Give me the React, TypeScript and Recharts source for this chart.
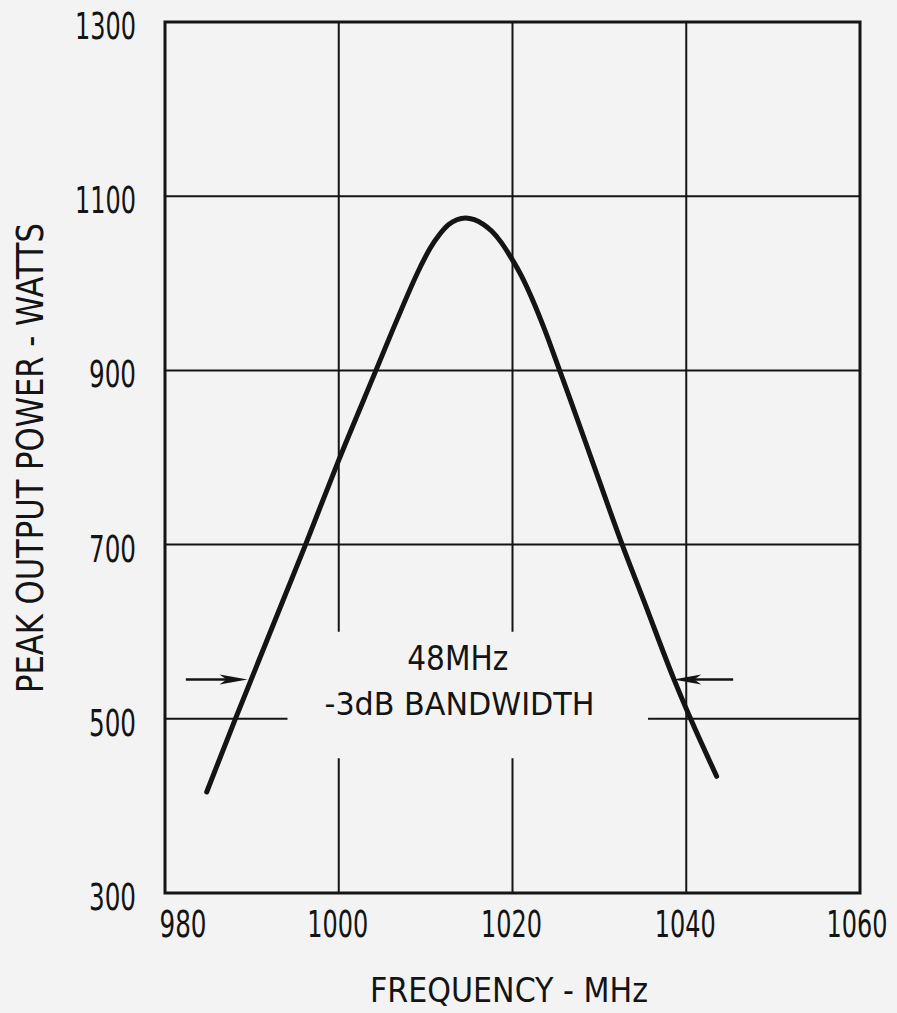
import React from 'react';
import {
  LineChart,
  Line,
  XAxis,
  YAxis,
  CartesianGrid,
  ReferenceArea,
  ReferenceLine,
  ReferenceDot,
  Label,
} from 'recharts';

// ---- data ----
const frequencies = [
  984.8, 988.1, 996.1, 1000.0, 1004.2, 1006.7, 1009.4, 1010.5, 1011.6, 1012.6, 1013.6,
  1014.6, 1015.6, 1016.6, 1017.6, 1018.7, 1019.8, 1021.0, 1022.0, 1023.5, 1025.5,
  1026.6, 1029.6, 1032.7, 1035.1, 1038.6, 1040.5, 1043.5,
];
const powers = [
  416, 500, 698, 797, 898, 958, 1019, 1040, 1056, 1067, 1073,
  1075, 1073, 1068, 1060, 1047, 1030, 1009, 988, 952, 898,
  868, 784, 698, 636, 545, 500, 434,
];
const xTicks = [980, 1000, 1020, 1040, 1060];
const yTicks = [300, 500, 700, 900, 1100, 1300];
const xAxisTitle = 'FREQUENCY - MHz';
const yAxisTitle = 'PEAK OUTPUT POWER - WATTS';
const annotationTop = '48MHz';
const annotationBottom = '-3dB BANDWIDTH';
// -3 dB markers (MHz, W)
const markerLevel = 545;
const leftMarker = [982.4, 989.5];
const rightMarker = [1045.4, 1038.5];
// grid opening behind the annotation (MHz, W)
const gapFreq = [994.1, 1035.6];
const gapPower = [454.7, 600];
// annotation anchor points (MHz, W)
const annotationTopAt = [1013.7, 556];
const annotationBottomAt = [1013.9, 504.4];

const data = frequencies.map((f, i) => ({ f, p: powers[i] }));

const INK = '#141414';
const BG = '#f3f3f3';
const FONT = "'Liberation Sans Narrow', 'DejaVu Sans Condensed', 'Liberation Sans', sans-serif";

const tickWidth = (s: string) => (s.length >= 4 ? 61 : 47);

const YTick = (props: any) => {
  const { x, y, payload } = props;
  const s = String(payload.value);
  const w = tickWidth(s);
  return (
    <text
      x={x - w}
      y={y + 17}
      textAnchor="start"
      fontFamily={FONT}
      fontSize={37}
      fill={INK}
      textLength={w}
      lengthAdjust="spacingAndGlyphs"
    >
      {s}
    </text>
  );
};

const XTick = (props: any) => {
  const { x, y, payload, index } = props;
  const s = String(payload.value);
  const w = tickWidth(s);
  const cx = index === 0 ? x + 18 : index === 4 ? x - 3 : x - 1;
  return (
    <text
      x={cx - w / 2}
      y={y + 44}
      textAnchor="start"
      fontFamily={FONT}
      fontSize={37}
      fill={INK}
      textLength={w}
      lengthAdjust="spacingAndGlyphs"
    >
      {s}
    </text>
  );
};

const arrowShape = (props: any) => {
  const { x1, y1, x2, y2 } = props;
  const dir = Math.sign(x2 - x1) || 1;
  const head = 28;
  const half = 5;
  return (
    <g>
      <line x1={x1} y1={y1} x2={x2 - dir * head * 0.6} y2={y2} stroke={INK} strokeWidth={2.5} />
      <polygon
        points={`${x2},${y2} ${x2 - dir * head},${y2 - half} ${x2 - dir * head * 0.75},${y2} ${x2 - dir * head},${y2 + half}`}
        fill={INK}
      />
    </g>
  );
};

const textShape = (text: string, size: number, width: number) => (props: any) => {
  const { cx, cy } = props;
  return (
    <text
      x={cx - width / 2}
      y={cy}
      textAnchor="start"
      fontFamily={FONT}
      fontSize={size}
      fill={INK}
      textLength={width}
      lengthAdjust="spacingAndGlyphs"
    >
      {text}
    </text>
  );
};

export default function App() {
  return (
    <div style={{ position: 'absolute', left: 0, top: 0, width: 897, height: 1013, background: BG }}>
      <LineChart
        width={897}
        height={1013}
        data={data}
        margin={{ top: 22, right: 37, bottom: 0, left: 0 }}
      >
        <CartesianGrid stroke={INK} strokeWidth={2} fill="none" />
        <XAxis
          type="number"
          dataKey="f"
          domain={[980, 1060]}
          ticks={xTicks}
          interval={0}
          axisLine={false}
          tickLine={false}
          tickSize={0}
          tickMargin={0}
          height={120}
          tick={<XTick />}
        >
          <Label
            content={() => {
              const w = 278;
              const cx = 509;
              return (
                <text
                  x={cx - w / 2}
                  y={1002}
                  fontFamily={FONT}
                  fontSize={33}
                  fill={INK}
                  textLength={w}
                  lengthAdjust="spacingAndGlyphs"
                >
                  {xAxisTitle}
                </text>
              );
            }}
          />
        </XAxis>
        <YAxis
          type="number"
          domain={[300, 1300]}
          ticks={yTicks}
          interval={0}
          axisLine={false}
          tickLine={false}
          tickSize={0}
          tickMargin={29}
          width={165}
          tick={<YTick />}
        >
          <Label
            content={() => {
              const w = 470;
              const bx = 43;
              const cy = 458;
              return (
                <g transform={`translate(${bx}, ${cy}) rotate(-90)`}>
                  <text
                    x={-w / 2}
                    y={0}
                    fontFamily={FONT}
                    fontSize={38}
                    fill={INK}
                    textLength={w}
                    lengthAdjust="spacingAndGlyphs"
                  >
                    {yAxisTitle}
                  </text>
                </g>
              );
            }}
          />
        </YAxis>
        <ReferenceArea
          x1={gapFreq[0]}
          x2={gapFreq[1]}
          y1={gapPower[0]}
          y2={gapPower[1]}
          fill={BG}
          fillOpacity={1}
          stroke="none"
        />
        <ReferenceArea
          x1={980}
          x2={1060}
          y1={300}
          y2={1300}
          fill="none"
          stroke={INK}
          strokeWidth={3}
          ifOverflow="visible"
        />
        <ReferenceLine
          segment={[{ x: leftMarker[0], y: markerLevel }, { x: leftMarker[1], y: markerLevel }]}
          shape={arrowShape}
        />
        <ReferenceLine
          segment={[{ x: rightMarker[0], y: markerLevel }, { x: rightMarker[1], y: markerLevel }]}
          shape={arrowShape}
        />
        <ReferenceDot
          x={annotationTopAt[0]}
          y={annotationTopAt[1]}
          r={0}
          shape={textShape(annotationTop, 34, 101)}
        />
        <ReferenceDot
          x={annotationBottomAt[0]}
          y={annotationBottomAt[1]}
          r={0}
          shape={textShape(annotationBottom, 32, 270)}
        />
        <Line
          type="monotone"
          dataKey="p"
          stroke={INK}
          strokeWidth={5}
          strokeLinecap="round"
          dot={false}
          activeDot={false}
          isAnimationActive={false}
        />
      </LineChart>
    </div>
  );
}
